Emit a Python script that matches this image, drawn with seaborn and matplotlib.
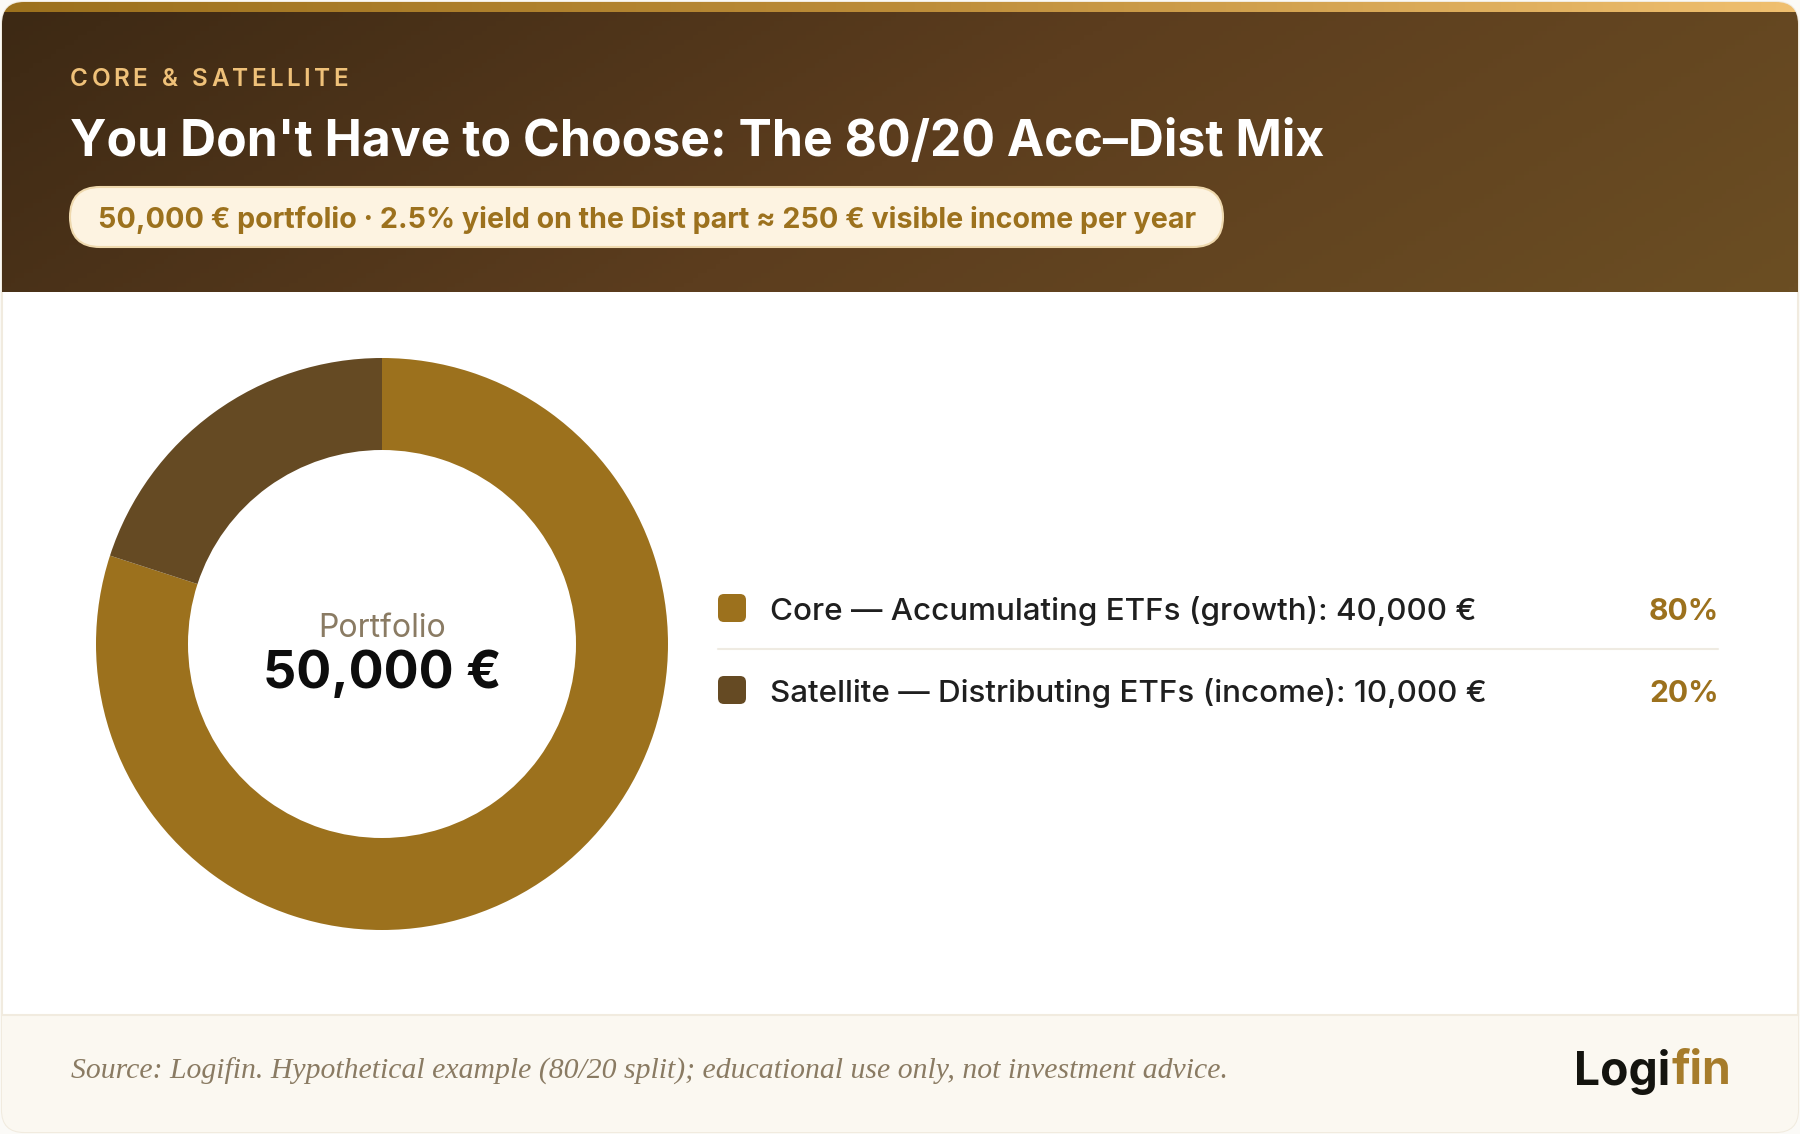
import numpy as np
import matplotlib
matplotlib.use("Agg")
import matplotlib.pyplot as plt
from matplotlib.colors import LinearSegmentedColormap
from matplotlib.patches import FancyBboxPatch, Rectangle
import seaborn as sns

labels = ["Core — Accumulating ETFs (growth): 40,000 €", "Satellite — Distributing ETFs (income): 10,000 €"]
values = [40000, 10000]
shares = ["80%", "20%"]
colors = ["#9C711D", "#654A23"]

eyebrow = "CORE & SATELLITE"
title = "You Don't Have to Choose: The 80/20 Acc–Dist Mix"
pill_text = "50,000 € portfolio · 2.5% yield on the Dist part ≈ 250 € visible income per year"
center_top = "Portfolio"
center_value = "50,000 €"
source = "Source: Logifin. Hypothetical example (80/20 split); educational use only, not investment advice."

sns.set_theme(style="white")
plt.rcParams["font.family"] = ["Inter", "DejaVu Sans"]

W, H = 1800, 1134
fig = plt.figure(figsize=(W / 100, H / 100), dpi=100, facecolor="#FBFAF7")
bg = fig.add_axes([0, 0, 1, 1])
bg.set_xlim(0, W)
bg.set_ylim(H, 0)
bg.axis("off")


def px(size):
    return size * 0.72


def gradient(x0, y0, x1, y1, cols, clip, slant=0.0):
    xx, yy = np.meshgrid(np.linspace(0, 1, 400), np.linspace(0, 1, 60))
    cmap = LinearSegmentedColormap.from_list("g", cols)
    im = bg.imshow((xx + slant * yy) / (1 + slant), extent=[x0, x1, y1, y0], cmap=cmap,
                   aspect="auto", zorder=2, vmin=0, vmax=1)
    im.set_clip_path(clip)


# card
card = FancyBboxPatch((2, 2), W - 4, H - 4, boxstyle="round,pad=0,rounding_size=22",
                      fc="white", ec="#F1EBDF", lw=1.5, zorder=1)
bg.add_patch(card)
clip = FancyBboxPatch((2, 2), W - 4, H - 4, boxstyle="round,pad=0,rounding_size=22",
                      fc="none", ec="none", transform=bg.transData)
bg.add_patch(clip)

gradient(2, 12, W - 2, 292, ["#3D2914", "#5C3D1E", "#6B4E23"], clip, slant=0.25)
gradient(2, 2, W - 2, 12, ["#9C711D", "#BC8C38", "#F0C070"], clip)

foot = Rectangle((2, 1015), W - 4, 118, fc="#FBF8F1", ec="none", zorder=2)
bg.add_patch(foot)
foot.set_clip_path(clip)
bg.plot([2, W - 2], [1015, 1015], color="#F1EBDF", lw=1.5, zorder=3)

# header text
fig.canvas.draw()
rend = fig.canvas.get_renderer()
x = 70
for ch in eyebrow:
    t = bg.text(x, 79.5, ch, color="#EFC179", fontsize=px(24.3), fontweight="semibold", va="center", ha="left", zorder=5)
    if ch == " ":
        adv = 7.5
    else:
        adv = t.get_window_extent(rend).width
    x += adv + 3.4

bg.text(70, 142, title, color="white", fontsize=px(49.9), fontweight="bold", va="center", ha="left", zorder=5)

bg.add_patch(FancyBboxPatch((70, 187), 1153, 60, boxstyle="round,pad=0,rounding_size=30",
                            fc="#FDF3E1", ec="#EFD9AE", lw=1.5, zorder=4))
bg.text(98, 219.5, pill_text, color="#9C711D", fontsize=px(28.65), fontweight="bold", va="center", ha="left", zorder=5)

# donut
R = 286
cx, cy = 382, 644
ax = fig.add_axes([(cx - R - 2) / W, 1 - (cy + R + 2) / H, (2 * R + 4) / W, (2 * R + 4) / H])
ax.pie(values, colors=colors, startangle=90, counterclock=False, radius=1,
       wedgeprops=dict(width=92 / R, edgecolor="none"))
ax.set_xlim(-1.007, 1.007)
ax.set_ylim(-1.007, 1.007)
ax.set_aspect("equal")
ax.text(0, 0.054, center_top, ha="center", va="center", color="#8A7B63", fontsize=px(32))
ax.text(0, -0.108, center_value, ha="center", va="center", color="#0D0D0D", fontsize=px(52), fontweight="bold")

# legend rows
for i, (lab, share, col) in enumerate(zip(labels, shares, colors)):
    y = 608 + i * 82
    bg.add_patch(FancyBboxPatch((718, y - 14), 28, 28, boxstyle="round,pad=0,rounding_size=6",
                                fc=col, ec="none", zorder=4))
    bg.text(770, y + 3.5, lab, color="#1F1F1F", fontsize=px(31.4), fontweight="medium", va="center", ha="left", zorder=5)
    bg.text(1719, y + 3.5, share, color="#9C711D", fontsize=px(30), fontweight="bold", va="center", ha="right", zorder=5)
bg.plot([718, 1718], [649, 649], color="#EFEBE2", lw=1.5, zorder=3)

# footer
bg.text(71, 1071, source, color="#8A7B63", fontsize=px(29.8), style="italic", family="Liberation Serif",
        va="center", ha="left", zorder=5)
logo = bg.text(1574, 1072, "Logi", color="#14140F", fontsize=px(46.2), fontweight="bold", va="center", ha="left", zorder=5)
lx = logo.get_window_extent(rend).x1
bg.text(lx + 1, 1072, "fin", color="#A67C2B", fontsize=px(46.2), fontweight="bold", va="center", ha="left", zorder=5)

fig.savefig("out.png", dpi=100, facecolor=fig.get_facecolor())
